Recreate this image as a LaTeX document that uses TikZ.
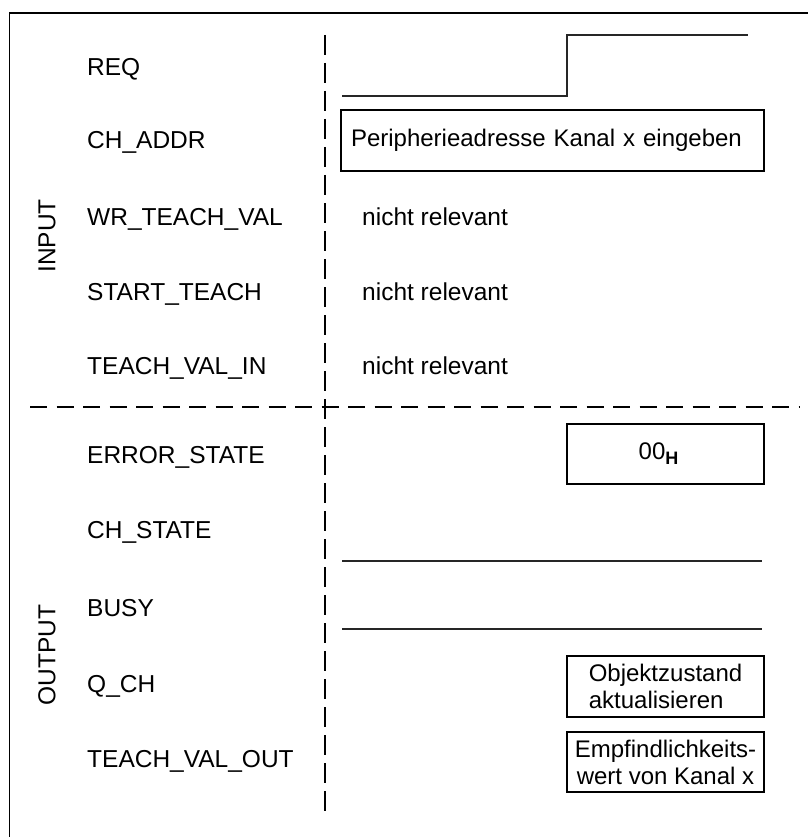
\documentclass[tikz,border=0pt]{standalone}
\usepackage{fontspec}
\setmainfont{Liberation Sans}
\begin{document}
\begin{tikzpicture}[x=1pt,y=-1pt,
  lbl/.style={font=\fontsize{24.5}{27}\selectfont, inner sep=0pt},
  sigline/.style={line width=1.3pt, draw=black!85},
  vdash/.style={line width=1.3pt, dash pattern=on 20pt off 8pt},
  hdash/.style={line width=1.3pt, dash pattern=on 17pt off 9.5pt},
  box/.style={draw, line width=1.3pt, font=\fontsize{24}{27}\selectfont, inner sep=0pt}]
\useasboundingbox (0,0) rectangle (808,837);
% frame (open at right and bottom)
\coordinate (fbl) at (9.5,837);
\coordinate (ftl) at (9.5,13);
\coordinate (ftr) at (808,13);
\draw[line width=1.6pt] (fbl) -- (ftl) -- (ftr);
% dashed separators
\coordinate (vtop) at (325,35);
\coordinate (vbot) at (325,817);
\coordinate (hleft) at (30,407);
\coordinate (hright) at (800,407);
\draw[vdash] (vtop) -- (vbot);
\draw[hdash] (hleft) -- (hright);
% side labels
\node[lbl, rotate=90] (input) at (47,236) {INPUT};
\node[lbl, rotate=90] (output) at (47,655) {OUTPUT};
% signal names
\node[lbl, anchor=base west] (req) at (87,75.6) {REQ};
\node[lbl, anchor=base west] (chaddr) at (87,148.6) {CH\_ADDR};
\node[lbl, anchor=base west] (wrtv) at (87,225.6) {WR\_TEACH\_VAL};
\node[lbl, anchor=base west] (stt) at (87,300.6) {START\_TEACH};
\node[lbl, anchor=base west] (tvi) at (87,374.6) {TEACH\_VAL\_IN};
\node[lbl, anchor=base west] (err) at (87,463.6) {ERROR\_STATE};
\node[lbl, anchor=base west] (chs) at (87,538.6) {CH\_STATE};
\node[lbl, anchor=base west] (busy) at (87,616.6) {BUSY};
\node[lbl, anchor=base west] (qch) at (87,692.6) {Q\_CH};
\node[lbl, anchor=base west] (tvo) at (87,767.6) {TEACH\_VAL\_OUT};
% values
\coordinate (reqa) at (342,96);
\coordinate (reqb) at (567,96);
\coordinate (reqc) at (567,35);
\coordinate (reqd) at (748,35);
\draw[sigline] (reqa) -- (reqb) -- (reqc) -- (reqd);
\node[box, minimum width=423, minimum height=61, inner xsep=10pt, text width=403pt, align=left] (addrbox) at (552.5,140.5) {Peripherieadresse Kanal x eingeben};
\node[lbl, anchor=base west] (nr1) at (362,225.6) {nicht relevant};
\node[lbl, anchor=base west] (nr2) at (362,300.6) {nicht relevant};
\node[lbl, anchor=base west] (nr3) at (362,374.6) {nicht relevant};
\node[box, minimum width=197, minimum height=60] (errbox) at (665.5,454) {00\raisebox{-5pt}{\fontsize{18}{20}\selectfont\bfseries H}\hspace*{14pt}};
\coordinate (chsa) at (342,561);
\coordinate (chsb) at (762,561);
\draw[sigline] (chsa) -- (chsb);
\coordinate (busya) at (342,629);
\coordinate (busyb) at (762,629);
\draw[sigline] (busya) -- (busyb);
\node[box, minimum width=197, minimum height=61, align=left] (qchbox) at (665.5,686.5) {Objektzustand\\aktualisieren};
\node[box, minimum width=197, minimum height=60, align=center] (tvobox) at (665.5,762) {Empfindlichkeits-\\wert von Kanal x};
\end{tikzpicture}
\end{document}
